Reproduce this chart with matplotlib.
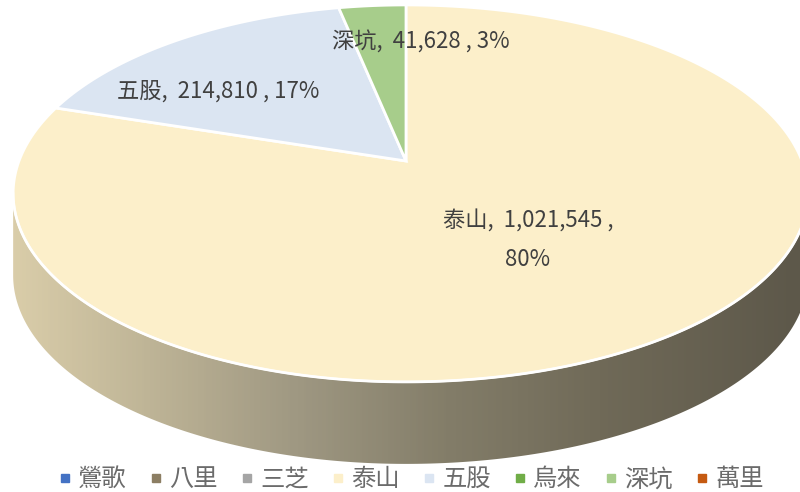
import numpy as np
import matplotlib.pyplot as plt
from matplotlib.patches import Polygon
from matplotlib.lines import Line2D
from matplotlib.colors import LinearSegmentedColormap

plt.rcParams['font.family'] = ['Noto Sans CJK TC', 'DejaVu Sans']

# data
districts = ['鶯歌', '八里', '三芝', '泰山', '五股', '烏來', '深坑', '萬里']
values = [0, 0, 0, 1021545, 214810, 0, 41628, 0]
top_colors = ['#4472c4', '#8c7e63', '#a5a5a5', '#fcefca', '#dbe5f2', '#70ad47', '#a7cd8b', '#c55a11']

# geometry of the tilted pie (pixel coords)
CX, CY = 406, 161
S, K = 182.9, 0.172       # vertical radius, perspective factor
RL, RR = 387, 396         # horizontal radius left / right
DEPTH = 82


def project(phi_deg, dy=0.0):
    phi = np.radians(phi_deg)
    u, v = np.cos(phi), np.sin(phi)
    w = 1 + K * v
    r = np.where(u > 0, RR, RL)
    return CX + r * u / w, CY - S * v / w + dy


fig = plt.figure(figsize=(8, 4.92), dpi=100)
ax = fig.add_axes([0, 0, 1, 1])
ax.set_xlim(0, 800)
ax.set_ylim(492, 0)
ax.axis('off')

# side of the cylinder
phi_ext = np.degrees(np.arcsin(K))
front = np.linspace(180 + phi_ext, 360 - phi_ext, 300)
xt, yt = project(front)
xb, yb = project(front[::-1], DEPTH)
side = Polygon(np.column_stack([np.r_[xt, xb], np.r_[yt, yb]]), closed=True,
               facecolor='none', edgecolor='none')
ax.add_patch(side)
stops = [(0.0, '#dccfab'), (0.18, '#bfb597'), (0.37, '#9f9882'),
         (0.56, '#837d69'), (0.75, '#706a58'), (1.0, '#5d584a')]
side_cmap = LinearSegmentedColormap.from_list('side', stops)
grad = np.tile(np.linspace(0, 1, 400), (10, 1))
im = ax.imshow(grad, cmap=side_cmap, extent=[0, 800, 492, 0], aspect='auto', zorder=1)
im.set_clip_path(side)

# top faces
total = sum(values)
start = 90.0
label_info = []
for name, val, col in zip(districts, values, top_colors):
    if val == 0:
        continue
    sweep = val / total * 360
    angs = np.linspace(start, start - sweep, max(int(sweep * 2), 4))
    xs, ys = project(angs)
    wedge = Polygon(np.column_stack([np.r_[CX, xs], np.r_[CY, ys]]), closed=True,
                    facecolor=col, edgecolor='white', linewidth=2, zorder=2)
    ax.add_patch(wedge)
    label_info.append((name, val, round(val / total * 100)))
    start -= sweep

# white highlight on the front rim
ax.plot(xt, yt, color='white', lw=1.6, zorder=3)

# data labels
label_pos = {'泰山': (528, 240), '五股': (218, 91), '深坑': (421, 42)}
for name, val, pct in label_info:
    if name == '泰山':
        txt = f'{name},  {val:,} ,\n{pct}%'
    else:
        txt = f'{name},  {val:,} , {pct}%'
    x, y = label_pos[name]
    ax.text(x, y, txt, ha='center', va='center', fontsize=16, color='#404040',
            fontweight='medium', linespacing=1.85, zorder=4)

# legend
handles = [Line2D([], [], marker='s', linestyle='none', markersize=5.5,
                  markerfacecolor=c, markeredgecolor=c) for c in top_colors]
fig.legend(handles, districts, loc='lower center', bbox_to_anchor=(0.514, -0.045),
           ncol=8, frameon=False, fontsize=17.5, labelcolor='#6b6b6b',
           handlelength=0.5, handletextpad=0.3, columnspacing=0.95)

fig.savefig('out.png', dpi=100)
